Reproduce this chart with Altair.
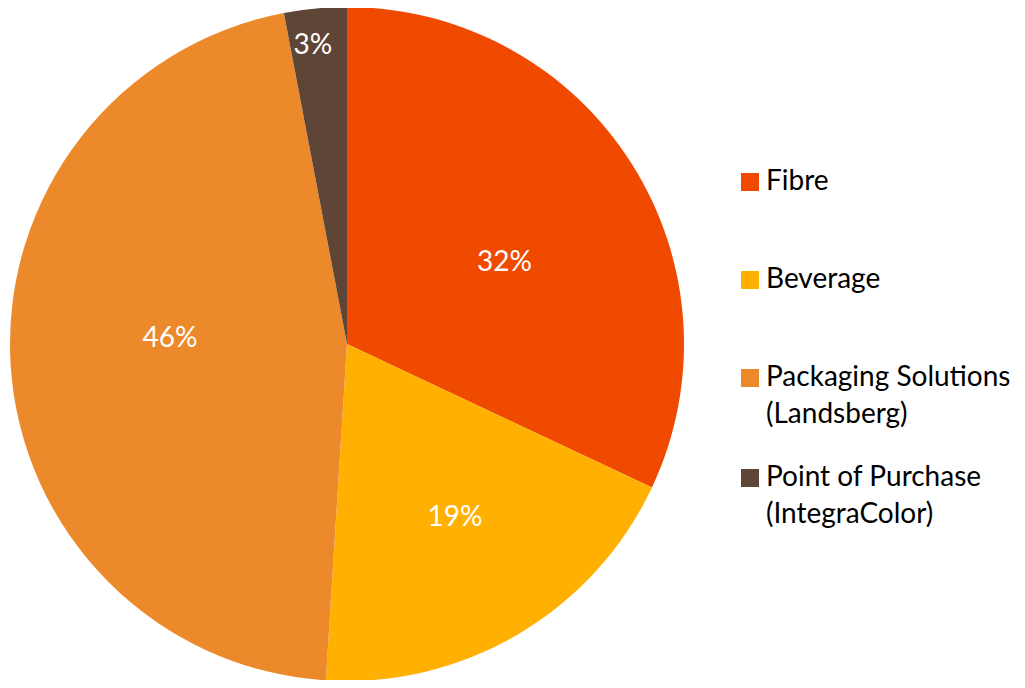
import altair as alt
import pandas as pd

categories = ["Fibre", "Beverage", "Packaging Solutions (Landsberg)", "Point of Purchase (IntegraColor)"]
shares = [32, 19, 46, 3]
labels = ["32%", "19%", "46%", "3%"]
colors = ["#F04A00", "#FFB000", "#EC8A2B", "#5F4536"]

df = pd.DataFrame({"cat": categories, "share": shares, "label": labels, "idx": list(range(len(categories)))})

FONT = "Lato"
CX, CY, R = 339, 336, 337

arcs = alt.Chart(df).mark_arc(radius=R, x=CX, y=CY, stroke=None).encode(
    theta=alt.Theta("share:Q", stack=True),
    order=alt.Order("idx:Q"),
    color=alt.Color(
        "cat:N",
        scale=alt.Scale(domain=categories, range=colors),
        sort=categories,
        legend=alt.Legend(
            title=None,
            orient="none",
            legendX=728,
            legendY=125,
            symbolType="square",
            symbolSize=324,
            symbolStrokeWidth=0,
            symbolOpacity=1,
            labelFont=FONT,
            labelFontSize=28,
            labelColor="#000000",
            labelLimit=400,
            labelOffset=2,
            labelBaseline="middle",
            rowPadding=0,
            clipHeight=98,
            labelExpr="indexof(datum.label, ' (') > 0 ? [slice(datum.label, 0, indexof(datum.label, ' (')), slice(datum.label, indexof(datum.label, ' (') + 1)] : datum.label",
        ),
    ),
)

texts = alt.Chart(df).transform_window(
    cum="sum(share)", sort=[alt.SortField("idx")]
).transform_joinaggregate(
    total="sum(share)"
).transform_calculate(
    mid="(datum.cum - datum.share / 2) / datum.total * 2 * PI + (datum.share > 25 ? 0.09 : -0.02)",
    lr="datum.share < 5 ? 300 : (datum.cat == 'Beverage' ? 205 : 177)",
).mark_text(x=CX, y=CY, color="white", font=FONT, fontSize=28).encode(
    theta=alt.Theta("mid:Q", scale=None),
    radius=alt.Radius("lr:Q", scale=None),
    text="label:N",
)

chart = alt.layer(arcs, texts).properties(
    width=1009, height=672, padding=0, autosize=alt.AutoSizeParams(type="none")
).configure_view(stroke=None).configure(
    style={"guide-label": {"lineHeight": 37}}
)

chart.save("out.html", embed_options={"renderer": "svg", "actions": False})
